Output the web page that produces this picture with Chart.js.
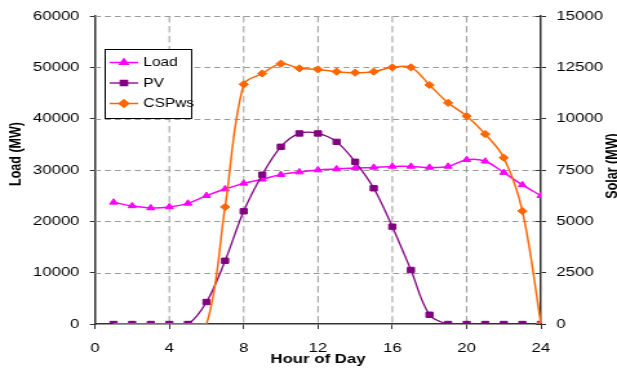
<!DOCTYPE html>
<html>
<head>
<meta charset="utf-8">
<script src="https://cdn.jsdelivr.net/npm/chart.js@4.4.1/dist/chart.umd.min.js"></script>
<style>
  html, body { margin: 0; padding: 0; background: #fff; }
  #wrap { width: 617px; height: 368px; overflow: hidden; }
  /* the chart is laid out narrow and stretched sideways to the full width */
  #chart { transform: scaleX(1.2908); transform-origin: 0 0; }
</style>
</head>
<body>
<div id="wrap"><canvas id="chart" width="478" height="368"></canvas></div>
<script>
  // ---- Data ----
  const hours = [1, 2, 3, 4, 5, 6, 7, 8, 9, 10, 11, 12, 13, 14, 15, 16, 17, 18, 19, 20, 21, 22, 23, 24];
  const loadMW = [23700, 23000, 22600, 22800, 23500, 25000, 26300, 27400, 28200, 29100, 29600, 30000,
                  30200, 30400, 30500, 30700, 30700, 30500, 30700, 32000, 31700, 29500, 27100, 25000];
  const pvMW = [0, 0, 0, 0, 0, 1070, 3080, 5490, 7270, 8630, 9280, 9280,
                8870, 7900, 6610, 4740, 2630, 450, 0, 0, 0, 0, 0, 0];
  const cspMW = [0, 0, 0, 0, 0, 0, 5700, 11670, 12200, 12680, 12450, 12400,
                 12290, 12240, 12290, 12500, 12500, 11640, 10770, 10130, 9250, 8100, 5500, 0];
  const hourTicks = [0, 4, 8, 12, 16, 20, 24];
  const loadTicks = [0, 10000, 20000, 30000, 40000, 50000, 60000];
  const solarTicks = [0, 2500, 5000, 7500, 10000, 12500, 15000];

  const pts = arr => arr.map((v, i) => ({ x: hours[i], y: v }));

  const FONT = 'Liberation Sans, Arial, sans-serif';
  const AXIS = '#333333';
  const GRID = '#9a9a9a';

  // dashed grid behind the series
  const dashedGrid = {
    id: 'dashedGrid',
    beforeDatasetsDraw(chart) {
      const { ctx, chartArea: a, scales } = chart;
      ctx.save();
      ctx.strokeStyle = GRID;
      ctx.lineWidth = 1;
      ctx.setLineDash([4.6, 3.1]);
      loadTicks.slice(1).forEach(v => {
        const py = Math.round(scales.y.getPixelForValue(v)) + 0.5;
        ctx.beginPath();
        ctx.moveTo(a.left, py);
        ctx.lineTo(a.right, py);
        ctx.stroke();
      });
      ctx.setLineDash([6.5, 3.5]);
      hourTicks.slice(1, -1).forEach(v => {
        const px = scales.x.getPixelForValue(v);
        ctx.beginPath();
        ctx.moveTo(px, a.top);
        ctx.lineTo(px, a.bottom);
        ctx.stroke();
      });
      ctx.restore();
    }
  };

  // axis titles, drawn by hand so the right one can read bottom-to-top
  const axisTitles = {
    id: 'axisTitles',
    afterDraw(chart) {
      const { ctx, chartArea: a } = chart;
      ctx.save();
      ctx.fillStyle = '#000';
      ctx.textAlign = 'center';
      ctx.textBaseline = 'middle';
      ctx.font = 'bold 13px ' + FONT;
      ctx.fillText('Hour of Day', (a.left + a.right) / 2, 359);
      ctx.font = 'bold 12.5px ' + FONT;
      ctx.translate(13, (a.top + a.bottom) / 2 - 16);
      ctx.rotate(-Math.PI / 2);
      ctx.fillText('Load (MW)', 0, 0);
      ctx.restore();
      ctx.save();
      ctx.fillStyle = '#000';
      ctx.textAlign = 'center';
      ctx.textBaseline = 'middle';
      ctx.font = 'bold 12.5px ' + FONT;
      ctx.translate(475, (a.top + a.bottom) / 2 - 4);
      ctx.rotate(-Math.PI / 2);
      ctx.fillText('Solar (MW)', 0, 0);
      ctx.restore();
    }
  };

  // right axis tick marks cross the axis line
  const innerTicks = {
    id: 'innerTicks',
    afterDraw(chart) {
      const { ctx, chartArea: a, scales } = chart;
      ctx.save();
      ctx.strokeStyle = AXIS;
      ctx.lineWidth = 1;
      scales.y2.ticks.forEach(t => {
        const y = Math.round(scales.y2.getPixelForValue(t.value)) + 0.5;
        ctx.beginPath();
        ctx.moveTo(a.right - 4, y);
        ctx.lineTo(a.right, y);
        ctx.stroke();
      });
      ctx.restore();
    }
  };

  // boxed legend inside the plot, top left
  const boxLegend = {
    id: 'boxLegend',
    afterDraw(chart) {
      const { ctx } = chart;
      const x0 = 81.5, y0 = 49.5, w = 67, h = 69;
      ctx.save();
      ctx.fillStyle = '#fff';
      ctx.fillRect(x0, y0, w, h);
      ctx.strokeStyle = '#000';
      ctx.lineWidth = 1;
      ctx.strokeRect(x0, y0, w, h);
      [0, 1, 2].forEach(i => {
        const ds = chart.data.datasets[i];
        const y = 62.5 + i * 20.5;
        ctx.strokeStyle = ds.borderColor;
        ctx.lineWidth = ds.borderWidth;
        ctx.beginPath();
        ctx.moveTo(85, y);
        ctx.lineTo(107, y);
        ctx.stroke();
        ctx.fillStyle = ds.borderColor;
        Chart.helpers.drawPoint(ctx, {
          pointStyle: ds.pointStyle,
          radius: ds.markerSize,
          borderWidth: 1,
          rotation: 0
        }, 96, y);
        ctx.fillStyle = '#000';
        ctx.font = '12px ' + FONT;
        ctx.textAlign = 'left';
        ctx.textBaseline = 'middle';
        ctx.fillText(ds.label, 111, y + 0.5);
      });
      ctx.restore();
    }
  };

  const tickFont = { family: FONT, size: 13 };
  const plain = v => String(v);

  new Chart(document.getElementById('chart'), {
    type: 'line',
    data: {
      datasets: [
        {
          label: 'Load', data: pts(loadMW), yAxisID: 'y', order: 2,
          borderColor: '#ff00ff', backgroundColor: '#ff00ff', borderWidth: 1.5,
          pointStyle: 'triangle', markerSize: 3.6, pointRadius: 3.6, pointBorderWidth: 1,
          pointBackgroundColor: '#ff00ff', pointBorderColor: '#ff00ff', tension: 0.35
        },
        {
          label: 'PV', data: pts(pvMW), yAxisID: 'y2', order: 1,
          borderColor: '#800080', backgroundColor: '#800080', borderWidth: 1.3,
          pointStyle: 'rect', markerSize: 3.8, pointRadius: 3.8, pointBorderWidth: 1,
          pointBackgroundColor: '#800080', pointBorderColor: '#800080', tension: 0.35
        },
        {
          label: 'CSPws', data: pts(cspMW), yAxisID: 'y2', order: 0,
          borderColor: '#ff6600', backgroundColor: '#ff6600', borderWidth: 1.5,
          pointStyle: 'rectRot', markerSize: 3.6, pointBorderWidth: 1,
          // no markers on the flat zero stretch before sunrise
          pointRadius: ctx => (ctx.raw && ctx.raw.y === 0 && ctx.raw.x < 12) ? 0 : 3.6,
          pointBackgroundColor: '#ff6600', pointBorderColor: '#ff6600', tension: 0.35
        }
      ]
    },
    options: {
      responsive: false,
      animation: false,
      devicePixelRatio: 1,
      layout: { padding: { top: 16, left: 0, right: 0, bottom: 0 } },
      plugins: { legend: { display: false }, tooltip: { enabled: false } },
      scales: {
        x: {
          type: 'linear', min: 0, max: 24,
          afterBuildTicks: s => { s.ticks = hourTicks.map(v => ({ value: v })); },
          ticks: { font: tickFont, color: '#000', padding: 12, maxRotation: 0, callback: plain },
          grid: { drawOnChartArea: false, tickColor: AXIS, tickLength: 5 },
          border: { color: AXIS, width: 1.5 },
          afterFit: s => { s.height = 44; }
        },
        y: {
          position: 'left', min: 0, max: 60000,
          afterBuildTicks: s => { s.ticks = loadTicks.map(v => ({ value: v })); },
          ticks: { font: tickFont, color: '#000', padding: 8, callback: plain },
          grid: { drawOnChartArea: false, tickColor: AXIS, tickLength: 4 },
          border: { color: AXIS, width: 1.5 },
          afterFit: s => { s.width = 73.6; }
        },
        y2: {
          position: 'right', min: 0, max: 15000,
          afterBuildTicks: s => { s.ticks = solarTicks.map(v => ({ value: v })); },
          ticks: { font: tickFont, color: '#000', padding: 8, callback: plain },
          grid: { drawOnChartArea: false, tickColor: AXIS, tickLength: 4 },
          border: { color: AXIS, width: 1.5 },
          afterFit: s => { s.width = 58.9; }
        }
      }
    },
    plugins: [dashedGrid, axisTitles, innerTicks, boxLegend]
  });
</script>
</body>
</html>
